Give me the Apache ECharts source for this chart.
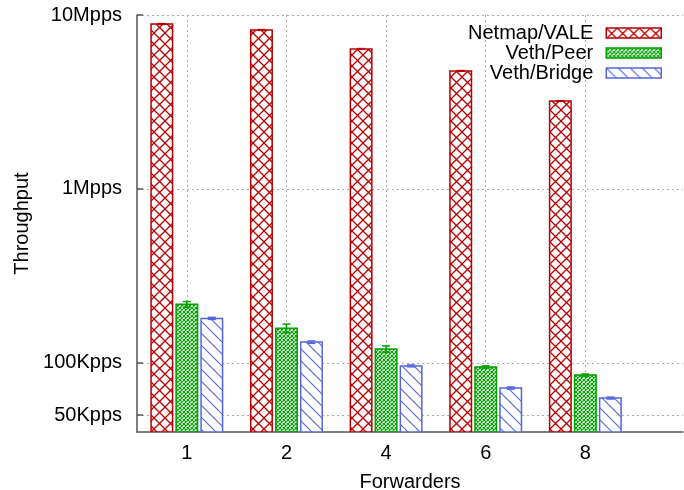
<!DOCTYPE html>
<html>
<head>
<meta charset="utf-8">
<script src="https://cdn.jsdelivr.net/npm/echarts@6/dist/echarts.min.js"></script>
<style>html,body{margin:0;padding:0;background:#fff}#c{width:684px;height:490px}</style>
</head>
<body>
<div id="c"></div>
<script>
// ---- data ----
var categories = ['1', '2', '4', '6', '8'];
var seriesNames = ['Netmap/VALE', 'Veth/Peer', 'Veth/Bridge'];
var netmapVale = [8880000, 8200000, 6380000, 4770000, 3200000];
var vethPeer   = [217000, 158000, 120000, 94500, 85000];
var vethBridge = [180000, 131500, 96000, 71600, 62700];
var netmapErr  = [40000, 40000, 30000, 20000, 15000];
var peerErr    = [8000, 9000, 5000, 1500, 1200];
var bridgeErr  = [2500, 2000, 1200, 1000, 800];
var yTickValues = [50000, 100000, 1000000, 10000000];
var yTickLabels = ['50Kpps', '100Kpps', '1Mpps', '10Mpps'];
var yMin = 40000, yMax = 10000000;

var colors = ['#b80000', '#00a000', '#5566dd'];

function makePattern(kind, color) {
  var s = kind === 'x' ? 11 : (kind === 'fine' ? 4 : 12);
  var c = document.createElement('canvas');
  c.width = s; c.height = s;
  var g = c.getContext('2d');
  g.fillStyle = '#fff'; g.fillRect(0, 0, s, s);
  g.strokeStyle = color;
  g.lineWidth = kind === 'x' ? 1.3 : (kind === 'fine' ? 1.2 : 1.1);
  g.beginPath();
  if (kind === 'x' || kind === 'fine') {
    g.moveTo(0, 0); g.lineTo(s, s);
    g.moveTo(s, 0); g.lineTo(0, s);
  } else {
    g.moveTo(-1, -1); g.lineTo(s + 1, s + 1);
    g.moveTo(-1, s - 1); g.lineTo(1, s + 1);
    g.moveTo(s - 1, -1); g.lineTo(s + 1, 1);
  }
  g.stroke();
  return {image: c, repeat: 'repeat'};
}
var patterns = [makePattern('x', colors[0]), makePattern('fine', colors[1]), makePattern('diag', colors[2])];

var BAR_W = 21.5, STEP = 25;

function buildData(vals, errs) {
  return vals.map(function (v, i) { return [i, v, v - errs[i], v + errs[i]]; });
}

function barSeries(idx, vals, errs) {
  var offset = (idx - 1) * STEP;
  return {
    name: seriesNames[idx],
    type: 'custom',
    data: buildData(vals, errs),
    itemStyle: {color: patterns[idx], borderColor: colors[idx], borderWidth: 1.5},
    clip: true,
    z: 2,
    renderItem: function (params, api) {
      var x = api.value(0), v = api.value(1), lo = api.value(2), hi = api.value(3);
      var top = api.coord([x, v]);
      var bot = api.coord([x, yMin]);
      var pLo = api.coord([x, lo]);
      var pHi = api.coord([x, hi]);
      var cx = top[0] + offset;
      var cap = 4;
      var ls = {stroke: colors[idx], lineWidth: 1.5};
      return {
        type: 'group',
        children: [
          {type: 'rect', shape: {x: cx - BAR_W / 2, y: top[1], width: BAR_W, height: bot[1] - top[1]},
           style: {fill: patterns[idx], stroke: colors[idx], lineWidth: 1.5}},
          {type: 'line', shape: {x1: cx, y1: pLo[1], x2: cx, y2: pHi[1]}, style: ls},
          {type: 'line', shape: {x1: cx - cap, y1: pHi[1], x2: cx + cap, y2: pHi[1]}, style: ls},
          {type: 'line', shape: {x1: cx - cap, y1: pLo[1], x2: cx + cap, y2: pLo[1]}, style: ls}
        ]
      };
    }
  };
}

var font = '"Liberation Sans", Arial, sans-serif';
var chart = echarts.init(document.getElementById('c'), null, {renderer: 'canvas'});
chart.setOption({
  animation: false,
  backgroundColor: '#fff',
  textStyle: {fontFamily: font},
  grid: {left: 137, right: 1, top: 15, bottom: 58, containLabel: false, outerBoundsMode: 'none'},
  legend: {
    orient: 'vertical', align: 'right', right: 17, top: 18,
    itemWidth: 55, itemHeight: 10, itemGap: 0,
    textStyle: {fontSize: 20, color: '#000', fontFamily: font, lineHeight: 20, padding: [0, 8, 0, 0]},
    data: seriesNames.map(function (n, i) {
      return {name: n, icon: 'rect', itemStyle: {color: patterns[i], borderColor: colors[i], borderWidth: 1.5}};
    })
  },
  xAxis: {
    type: 'value', min: -0.5, max: 4.98,
    name: 'Forwarders', nameLocation: 'middle', nameGap: 40,
    nameTextStyle: {fontSize: 20, color: '#000', fontFamily: font},
    axisLine: {show: true, onZero: false, lineStyle: {color: '#555', width: 1.5}},
    axisTick: {show: false, customValues: [0, 1, 2, 3, 4]},
    axisLabel: {
      customValues: [0, 1, 2, 3, 4], margin: 11, fontSize: 20, color: '#000', fontFamily: font,
      formatter: function (v) { return categories[Math.round(v)]; }
    },
    splitLine: {show: true, lineStyle: {color: '#aaa', type: [2, 3], width: 1}}
  },
  yAxis: {
    type: 'log', logBase: 10, min: yMin, max: yMax,
    name: 'Throughput', nameLocation: 'middle', nameGap: 104, nameRotate: 90,
    nameTextStyle: {fontSize: 20, color: '#000', fontFamily: font},
    axisLine: {show: true, onZero: false, lineStyle: {color: '#555', width: 1.5}},
    axisTick: {show: true, inside: true, length: 6, customValues: yTickValues, lineStyle: {color: '#555', width: 1.5}},
    axisLabel: {
      customValues: yTickValues, margin: 15, fontSize: 20, color: '#000', fontFamily: font,
      formatter: function (v) {
        for (var i = 0; i < yTickValues.length; i++) {
          if (Math.abs(v - yTickValues[i]) / yTickValues[i] < 1e-6) return yTickLabels[i];
        }
        return '';
      }
    },
    splitLine: {show: true, lineStyle: {color: '#aaa', type: [2, 3], width: 1}}
  },
  series: [
    barSeries(0, netmapVale, netmapErr),
    barSeries(1, vethPeer, peerErr),
    barSeries(2, vethBridge, bridgeErr)
  ]
});
</script>
</body>
</html>
